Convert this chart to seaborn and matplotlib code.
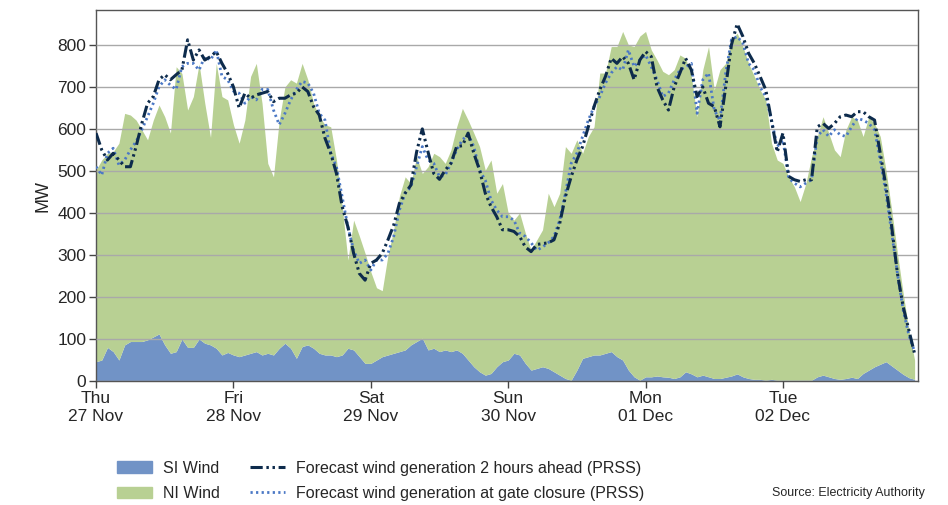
import numpy as np
import matplotlib
matplotlib.use("Agg")
import matplotlib.pyplot as plt
from matplotlib.patches import Patch
import seaborn as sns

# hourly values, Thu 27 Nov 00:00 -> Tue 02 Dec 23:00 (MW)
day_labels = ["Thu\n27 Nov", "Fri\n28 Nov", "Sat\n29 Nov", "Sun\n30 Nov", "Mon\n01 Dec", "Tue\n02 Dec"]

# top of the stacked area (SI + NI)
total_wind = [
    502, 526, 542, 546, 566, 637, 633, 621, 598, 574, 621, 657, 629, 590, 748, 732, 645, 677, 755, 661, 580, 756, 677, 669,
    610, 566, 621, 725, 756, 661, 518, 486, 621, 700, 717, 709, 756, 717, 661, 629, 610, 605, 526, 415, 288, 383, 345, 304,
    260, 222, 215, 300, 360, 440, 486, 470, 534, 494, 510, 542, 534, 518, 550, 605, 649, 621, 590, 558, 502, 526, 447, 470,
    400, 383, 400, 352, 312, 336, 360, 447, 415, 447, 558, 542, 574, 542, 582, 605, 733, 733, 796, 796, 832, 800, 796, 821,
    832, 788, 764, 737, 729, 741, 776, 768, 725, 629, 741, 796, 693, 741, 756, 812, 828, 796, 756, 725, 693, 669, 566, 526,
    518, 486, 462, 427, 470, 534, 582, 629, 590, 550, 534, 598, 629, 621, 582, 629, 613, 582, 502, 407, 304, 209, 121, 50,
]

si_wind = [
    46, 50, 80, 70, 50, 86, 94, 94, 94, 98, 105, 112, 86, 66, 70, 100, 80, 80, 100, 90, 86, 78, 62, 68,
    62, 58, 62, 66, 70, 62, 66, 62, 78, 90, 78, 54, 82, 86, 78, 66, 62, 62, 58, 62, 78, 74, 58, 42,
    42, 50, 58, 62, 66, 70, 74, 86, 94, 102, 74, 78, 70, 74, 70, 74, 66, 50, 34, 22, 14, 18, 34, 46,
    50, 66, 62, 42, 26, 30, 34, 30, 22, 14, 6, 2, 26, 54, 58, 62, 62, 66, 70, 58, 50, 26, 10, 2,
    10, 10, 12, 10, 9, 6, 10, 22, 17, 10, 14, 10, 6, 6, 9, 12, 17, 10, 6, 4, 4, 2, 4, 2,
    2, 2, 2, 2, 2, 2, 10, 14, 10, 6, 4, 6, 9, 6, 18, 26, 34, 40, 46, 36, 26, 16, 8, 4,
]

forecast_2h = [
    590, 550, 526, 542, 526, 510, 510, 558, 613, 661, 677, 717, 729, 717, 729, 740, 812, 764, 788, 764, 772, 784, 756, 732,
    700, 650, 685, 673, 681, 685, 689, 665, 673, 673, 681, 685, 700, 689, 653, 633, 578, 542, 494, 415, 367, 304, 256, 240,
    280, 288, 304, 336, 371, 423, 447, 466, 545, 600, 545, 494, 480, 502, 518, 558, 560, 590, 542, 502, 447, 415, 391, 360,
    360, 356, 344, 319, 308, 325, 327, 329, 336, 375, 439, 486, 526, 558, 605, 653, 693, 725, 768, 756, 772, 756, 717, 764,
    784, 772, 700, 669, 645, 700, 733, 768, 740, 677, 700, 661, 653, 605, 700, 800, 850, 820, 780, 756, 725, 693, 620, 545,
    590, 487, 479, 475, 479, 479, 605, 613, 601, 613, 629, 633, 629, 641, 641, 629, 621, 542, 463, 367, 256, 177, 121, 65,
]

forecast_gate = [
    510, 490, 542, 554, 514, 526, 550, 570, 598, 629, 661, 700, 717, 704, 694, 748, 756, 756, 740, 772, 764, 788, 725, 717,
    690, 685, 661, 677, 669, 694, 694, 645, 610, 637, 669, 694, 713, 709, 685, 637, 621, 542, 510, 439, 367, 311, 280, 288,
    264, 288, 288, 304, 344, 407, 447, 462, 510, 558, 526, 518, 486, 490, 518, 550, 574, 586, 558, 502, 478, 431, 407, 391,
    391, 383, 352, 344, 329, 311, 319, 329, 344, 383, 447, 518, 542, 582, 621, 653, 677, 709, 733, 748, 740, 788, 748, 764,
    776, 748, 717, 677, 685, 717, 740, 748, 756, 637, 717, 733, 645, 620, 733, 812, 820, 804, 756, 740, 700, 677, 621, 558,
    574, 483, 471, 462, 471, 479, 582, 598, 582, 598, 586, 582, 605, 625, 621, 613, 598, 526, 447, 352, 256, 169, 109, 70,
]

hours = np.arange(len(total_wind))

sns.set_theme(style="white")
plt.rcParams["font.family"] = ["Liberation Sans", "DejaVu Sans"]

fig = plt.figure(figsize=(9.48, 5.05), dpi=100)
ax = fig.add_axes([0.1013, 0.2455, 0.8671, 0.7347])

si_col = "#7193c6"
ni_col = "#b8d093"
dash_col = "#0d2b4c"
dot_col = "#4b78c5"
dash_style = (0, (4, 1.2, 0.8, 1.2, 0.8, 1.2))
dot_style = (0, (0.8, 1.2))

ax.fill_between(hours, 0, si_wind, color=si_col, lw=0, zorder=1)
ax.fill_between(hours, si_wind, total_wind, color=ni_col, lw=0, zorder=1)

sns.lineplot(x=hours, y=forecast_gate, ax=ax, color=dot_col, lw=2.0,
             linestyle=dot_style, zorder=3)
sns.lineplot(x=hours, y=forecast_2h, ax=ax, color=dash_col, lw=2.2,
             linestyle=dash_style, zorder=4)

ax.set_xlim(0, 143.6)
ax.set_ylim(0, 883)
ax.set_xticks(np.arange(0, 144, 24))
ax.set_xticklabels(day_labels, fontsize=12.5, linespacing=1.25)
ax.set_yticks(np.arange(0, 900, 100))
ax.tick_params(axis="y", labelsize=12.5, length=5, width=1, color="#444444", direction="out", left=True, pad=2)
ax.tick_params(axis="x", length=5, width=1, color="#444444", direction="out", bottom=True, pad=2)
ax.set_ylabel("MW", fontsize=13)
ax.set_xlabel("")

ax.set_axisbelow(False)
ax.grid(axis="y", color="#a9a9a9", lw=1)
ax.grid(axis="x", visible=False)
for s in ax.spines.values():
    s.set_color("#555555")
    s.set_linewidth(1)

handles = [
    Patch(color=si_col, label="SI Wind"),
    Patch(color=ni_col, label="NI Wind"),
    plt.Line2D([], [], color=dash_col, lw=2.2, linestyle=dash_style,
               label="Forecast wind generation 2 hours ahead (PRSS)"),
    plt.Line2D([], [], color=dot_col, lw=2.0, linestyle=dot_style,
               label="Forecast wind generation at gate closure (PRSS)"),
]
fig.legend(handles=handles, ncol=2, loc="upper left", bbox_to_anchor=(0.123, 0.088),
           frameon=False, fontsize=11.5, borderpad=0, borderaxespad=0,
           handlelength=2.2, handletextpad=0.7, columnspacing=1.9, labelspacing=0.65)
fig.text(0.976, 0.024, "Source: Electricity Authority", ha="right", va="center", fontsize=9)

fig.savefig("out.png", dpi=100)
